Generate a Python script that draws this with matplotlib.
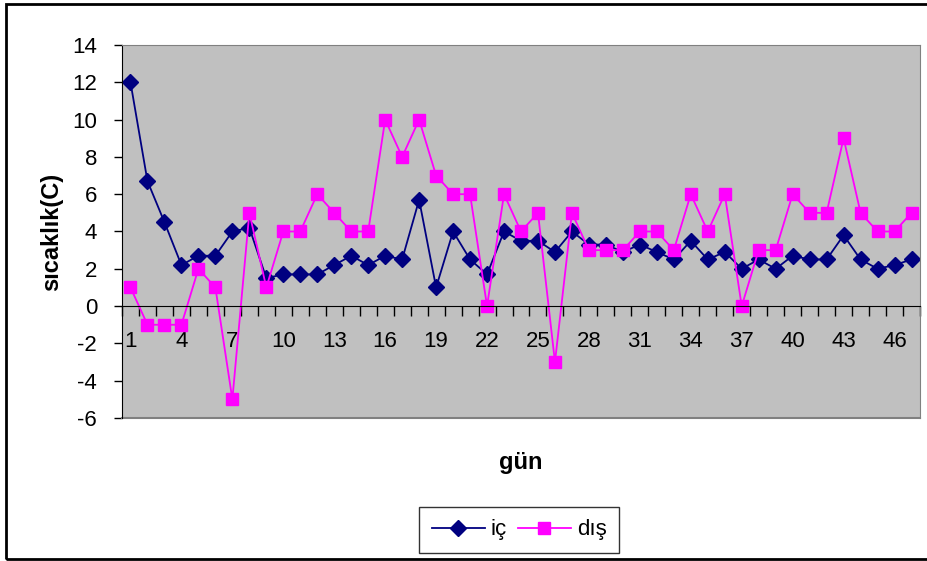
import numpy as np
import matplotlib
matplotlib.use("Agg")
import matplotlib.pyplot as plt
from matplotlib.ticker import FixedLocator
from matplotlib.patches import Rectangle

plt.rcParams['font.family'] = ['Liberation Sans', 'DejaVu Sans']
plt.rcParams['axes.unicode_minus'] = False

gun = np.arange(1, 48)
ic = [12, 6.7, 4.5, 2.2, 2.7, 2.7, 4.0, 4.2, 1.5, 1.7,
      1.7, 1.7, 2.2, 2.7, 2.2, 2.7, 2.5, 5.7, 1.0, 4.0,
      2.5, 1.7, 4.0, 3.5, 3.5, 2.9, 4.0, 3.3, 3.3, 2.9,
      3.3, 2.9, 2.5, 3.5, 2.5, 2.9, 2.0, 2.5, 2.0, 2.7,
      2.5, 2.5, 3.8, 2.5, 2.0, 2.2, 2.5]
dis = [1, -1, -1, -1, 2, 1, -5, 5, 1, 4,
       4, 6, 5, 4, 4, 10, 8, 10, 7, 6,
       6, 0, 6, 4, 5, -3, 5, 3, 3, 3,
       4, 4, 3, 6, 4, 6, 0, 3, 3, 6,
       5, 5, 9, 5, 4, 4, 5]
yticks = np.arange(-6, 15, 2)
xlabels = gun[::3]

fig = plt.figure(figsize=(9.27, 5.61), dpi=100)
ax = fig.add_axes([122/927, 1 - 418/561, 798/927, 373/561])
ax.set_facecolor('#C0C0C0')

ax.plot(gun, ic, color='#000080', marker='D', markersize=8, linewidth=1.3, label='iç')
ax.plot(gun, dis, color='#FF00FF', marker='s', markersize=8, linewidth=1.3, label='dış')

ax.set_xlim(0.5, 47.5)
ax.set_ylim(-6, 14)
ax.set_yticks(yticks)
ax.tick_params(axis='y', direction='out', length=6, width=1, pad=12, labelsize=16)

# category axis drawn at y=0, ticks between categories
ax.spines['bottom'].set_position(('data', 0))
ax.spines['bottom'].set_color('black')
ax.spines['left'].set_color('black')
for s in ['top', 'right']:
    ax.spines[s].set_color('#808080')
ax.xaxis.set_major_locator(FixedLocator(xlabels))
ax.set_xticklabels([str(v) for v in xlabels])
ax.xaxis.set_minor_locator(FixedLocator(np.arange(0.5, 48, 1)))
ax.tick_params(axis='x', which='major', length=0, pad=18, labelsize=16)
ax.tick_params(axis='x', which='minor', direction='out', length=7, width=1)
# bottom edge of the gray plot area
ax.plot([0.5, 47.5], [-6, -6], color='#808080', linewidth=1.5, clip_on=False)

fig.text(52/927, 1 - 232/561, 'sıcaklık(C)', rotation=90, ha='center', va='center',
         fontsize=17, fontweight='bold')
fig.text(521/927, 1 - 462/561, 'gün', ha='center', va='center',
         fontsize=17, fontweight='bold')

leg = fig.legend(loc='center', bbox_to_anchor=(519/927, 1 - 530/561), ncol=2,
                 fontsize=16, frameon=True, fancybox=False, edgecolor='black',
                 handlelength=2.4, columnspacing=0.5, handletextpad=0.25,
                 borderpad=0.55, borderaxespad=0.3)
leg.get_frame().set_linewidth(1)

fig.patches.append(Rectangle((6/927, 2/561), 1.0, 555/561, transform=fig.transFigure,
                             fill=False, edgecolor='black', linewidth=2))

fig.savefig('out.png', dpi=100)
